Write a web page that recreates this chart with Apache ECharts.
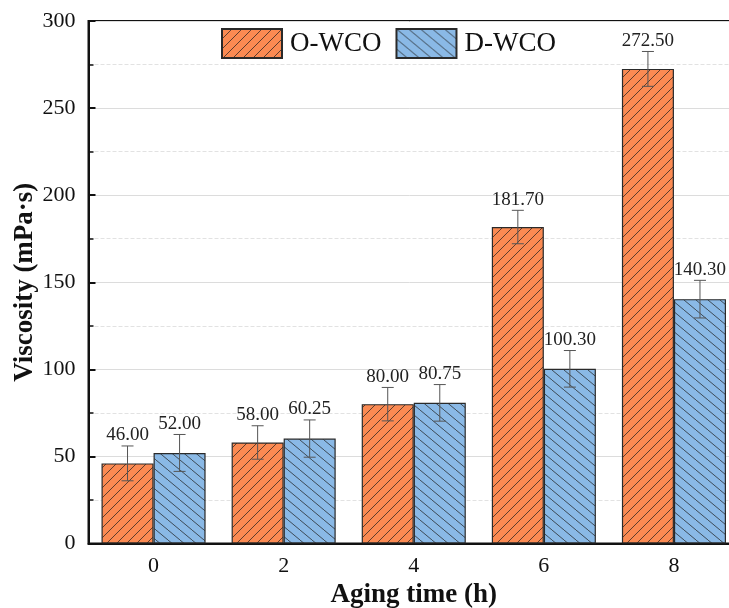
<!DOCTYPE html>
<html>
<head>
<meta charset="utf-8">
<script src="https://cdn.jsdelivr.net/npm/echarts@6/dist/echarts.min.js"></script>
<style>
html,body{margin:0;padding:0;background:#fff;}
#chart{width:729px;height:608px;}
</style>
</head>
<body>
<div id="chart"></div>
<script>
// ---- data ----
const categories = ['0', '2', '4', '6', '8'];
const seriesNames = ['O-WCO', 'D-WCO'];
const oWco = [46.00, 58.00, 80.00, 181.70, 272.50];
const dWco = [52.00, 60.25, 80.75, 100.30, 140.30];
const oErr = [10.0, 9.6, 9.6, 9.6, 10.0];
const dErr = [10.6, 10.7, 10.5, 10.5, 10.8];

const SERIF = '"Liberation Serif", "Times New Roman", serif';

function hatch(bg, w, h, dir) {
  const c = document.createElement('canvas');
  c.width = w; c.height = h;
  const g = c.getContext('2d');
  g.fillStyle = bg;
  g.fillRect(0, 0, w, h);
  g.strokeStyle = 'rgba(30,30,30,0.9)';
  g.lineWidth = 0.8;
  for (let k = -1; k <= 1; k++) {
    g.beginPath();
    if (dir > 0) { g.moveTo(k * w, h); g.lineTo(k * w + w, 0); }
    else { g.moveTo(k * w, 0); g.lineTo(k * w + w, h); }
    g.stroke();
  }
  return { image: c, repeat: 'repeat' };
}

const orangeFill = hatch('#fb8a52', 10, 10, 1);
const blueFill = hatch('#8ab9e6', 12, 10, -1);

function errRender(sign) {
  return function (params, api) {
    const ci = api.value(0), v = api.value(1), e = api.value(2);
    const band = api.size([1, 0])[0];
    const bw = band * 0.8 / 2;
    const cx = api.coord([ci, v])[0] + sign * bw / 2;
    const yT = api.coord([ci, v + e])[1];
    const yB = api.coord([ci, v - e])[1];
    const cap = 6;
    const st = { stroke: '#555', lineWidth: 1 };
    return {
      type: 'group',
      children: [
        { type: 'line', shape: { x1: cx, y1: yT, x2: cx, y2: yB }, style: st },
        { type: 'line', shape: { x1: cx - cap, y1: yT, x2: cx + cap, y2: yT }, style: st },
        { type: 'line', shape: { x1: cx - cap, y1: yB, x2: cx + cap, y2: yB }, style: st },
        { type: 'text', x: cx, y: yT - 1,
          style: { text: v.toFixed(2), align: 'center', verticalAlign: 'bottom',
                   font: '19px ' + SERIF, fill: '#222' } }
      ]
    };
  };
}

const chart = echarts.init(document.getElementById('chart'), null, { renderer: 'canvas' });
chart.setOption({
  backgroundColor: '#fff',
  animation: false,
  grid: {
    left: 88.5, right: -10, top: 21, bottom: 64.5,
    containLabel: false, outerBoundsMode: 'none',
    show: true, borderColor: '#111', borderWidth: 2, backgroundColor: 'transparent'
  },
  legend: {
    data: seriesNames,
    left: 216, top: 23,
    itemWidth: 60, itemHeight: 29, itemGap: 14,
    icon: 'rect',
    textStyle: { fontFamily: SERIF, fontSize: 27, color: '#111', padding: [0, 0, 0, 3] }
  },
  xAxis: {
    type: 'category',
    data: categories,
    name: 'Aging time (h)',
    nameLocation: 'middle',
    nameGap: 38,
    nameMoveOverlap: false,
    nameTextStyle: { fontFamily: SERIF, fontSize: 27, fontWeight: 'bold', color: '#111' },
    axisLine: { lineStyle: { color: '#111', width: 2 } },
    axisTick: { alignWithLabel: true, length: 9, lineStyle: { color: '#111', width: 2 } },
    axisLabel: { fontFamily: SERIF, fontSize: 22, color: '#111', margin: 12 },
    splitLine: { show: false }
  },
  yAxis: {
    type: 'value',
    min: 0, max: 300, interval: 50,
    name: 'Viscosity (mPa·s)',
    nameLocation: 'middle',
    nameGap: 50,
    nameMoveOverlap: false,
    nameTextStyle: { fontFamily: SERIF, fontSize: 27, fontWeight: 'bold', color: '#111' },
    axisLine: { show: true, lineStyle: { color: '#111', width: 2 } },
    axisTick: { show: true, inside: true, length: 7, lineStyle: { color: '#111', width: 2 } },
    minorTick: { show: true, splitNumber: 2, length: 5, lineStyle: { color: '#111', width: 1.5 } },
    axisLabel: { fontFamily: SERIF, fontSize: 22, color: '#111', margin: 13 },
    splitLine: { show: true, lineStyle: { color: '#dcdcdc', width: 1 } },
    minorSplitLine: { show: true, lineStyle: { color: '#e2e2e2', width: 1, type: 'dashed' } }
  },
  series: [
    {
      name: seriesNames[0], type: 'bar', data: oWco,
      barGap: '0%', barCategoryGap: '20%',
      itemStyle: { color: orangeFill, borderColor: '#2a2a2a', borderWidth: 1.2 }
    },
    {
      name: seriesNames[1], type: 'bar', data: dWco,
      barGap: '0%', barCategoryGap: '20%',
      itemStyle: { color: blueFill, borderColor: '#2a2a2a', borderWidth: 1.2 }
    },
    {
      type: 'custom', renderItem: errRender(-1), z: 5,
      encode: { x: 0, y: 1 },
      data: oWco.map((v, i) => [i, v, oErr[i]])
    },
    {
      type: 'custom', renderItem: errRender(1), z: 5,
      encode: { x: 0, y: 1 },
      data: dWco.map((v, i) => [i, v, dErr[i]])
    }
  ]
});
</script>
</body>
</html>
